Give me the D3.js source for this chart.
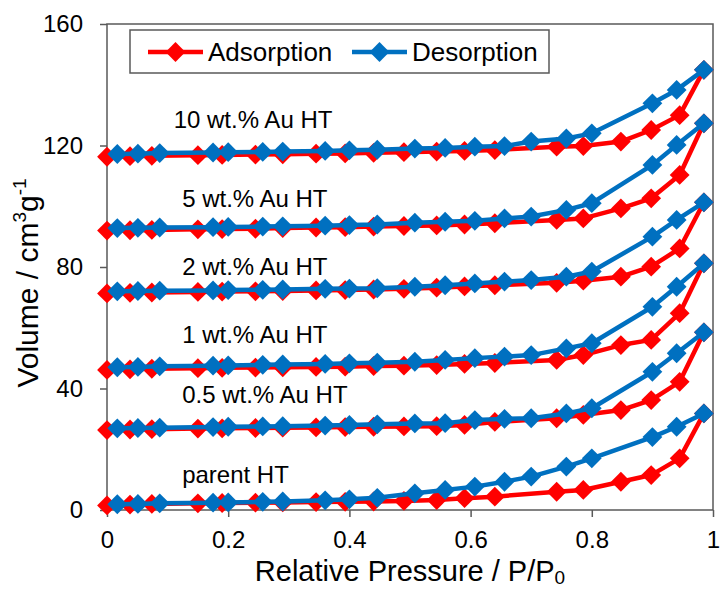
<!DOCTYPE html>
<html>
<head>
<meta charset="utf-8">
<script src="https://cdn.jsdelivr.net/npm/d3@7"></script>
<style>
  body { margin: 0; background: #fff; }
  text { font-family: Arial, "Liberation Sans", sans-serif; fill: #000; }
</style>
</head>
<body>
<div id="chart"></div>
<script>
// relative pressure of the measured points
var adsP = [0.0, 0.038, 0.074, 0.15, 0.19, 0.245, 0.29, 0.345, 0.393, 0.44, 0.49, 0.544, 0.59, 0.64, 0.742, 0.786, 0.848, 0.898, 0.945, 0.985];
var desP = [0.985, 0.94, 0.90, 0.80, 0.758, 0.70, 0.656, 0.607, 0.558, 0.508, 0.446, 0.40, 0.36, 0.29, 0.257, 0.2, 0.175, 0.087, 0.051, 0.017];

var samples = ["parent HT", "0.5 wt.% Au HT", "1 wt.% Au HT", "2 wt.% Au HT", "5 wt.% Au HT", "10 wt.% Au HT"];

// adsorbed volume, cm3/g (adsorption branch)
var adsParent = [1.5, 1.8, 2.0, 2.2, 2.3, 2.4, 2.5, 2.6, 2.7, 2.8, 3.0, 3.3, 3.9, 4.4, 6.0, 6.6, 9.3, 11.5, 17.0, 31.8];
var ads05 = [26.3, 26.5, 26.6, 26.8, 26.9, 27.0, 27.1, 27.2, 27.3, 27.4, 27.5, 27.6, 28.0, 29.0, 30.2, 31.3, 32.9, 36.2, 42.2, 58.5];
var ads1 = [46.1, 46.3, 46.5, 46.7, 46.8, 46.9, 47.0, 47.1, 47.2, 47.4, 47.5, 47.7, 48.1, 48.4, 49.4, 51.0, 54.3, 56.0, 64.8, 81.2];
var ads2 = [71.3, 71.5, 71.6, 71.8, 71.9, 72.0, 72.1, 72.3, 72.4, 72.6, 72.8, 73.2, 73.6, 74.0, 74.8, 75.5, 76.8, 80.1, 86.1, 101.3];
var ads5 = [92.0, 92.1, 92.2, 92.4, 92.5, 92.6, 92.8, 93.0, 93.1, 93.3, 93.5, 93.7, 94.0, 94.4, 95.5, 96.0, 99.3, 102.6, 110.3, 127.3];
var ads10 = [116.3, 116.5, 116.6, 116.8, 116.9, 117.0, 117.1, 117.3, 117.4, 117.6, 117.8, 118.0, 118.2, 118.5, 119.6, 119.8, 121.3, 125.1, 130.0, 144.9];

// desorption branch
var desParent = [31.8, 27.4, 24.0, 17.0, 14.3, 11.0, 9.3, 7.7, 6.6, 5.5, 4.0, 3.5, 3.2, 2.8, 2.7, 2.5, 2.4, 2.2, 2.0, 1.9];
var des05 = [58.5, 51.6, 45.5, 33.5, 31.8, 30.2, 30.0, 29.6, 28.6, 28.5, 28.2, 28.0, 27.8, 27.6, 27.5, 27.4, 27.3, 27.1, 27.0, 26.9];
var des1 = [81.2, 73.5, 66.9, 54.9, 53.2, 51.0, 50.5, 50.0, 49.4, 48.8, 48.5, 48.3, 48.1, 47.9, 47.8, 47.6, 47.5, 47.3, 47.1, 47.0];
var des2 = [101.3, 95.5, 90.0, 78.5, 76.8, 75.7, 75.2, 74.6, 74.0, 73.5, 73.0, 72.9, 72.8, 72.6, 72.5, 72.4, 72.3, 72.2, 72.1, 72.0];
var des5 = [127.3, 120.2, 113.6, 101.0, 98.8, 96.6, 96.0, 95.2, 94.9, 94.6, 94.0, 93.8, 93.6, 93.4, 93.3, 93.2, 93.1, 93.0, 92.9, 92.8];
var des10 = [144.9, 138.3, 133.9, 124.0, 122.3, 121.3, 119.8, 119.6, 119.2, 119.0, 118.6, 118.4, 118.2, 118.0, 117.9, 117.8, 117.7, 117.5, 117.3, 117.2];

var xTicks = [0, 0.2, 0.4, 0.6, 0.8, 1];
var yTicks = [0, 40, 80, 120, 160];

// sample label placement (x in P/P0, y in volume units)
var labelPos = [[0.124, 9], [0.124, 35.3], [0.124, 55.0], [0.124, 77.4], [0.124, 99.7], [0.11, 125.7]];

var adsColor = "#ff0000";
var desColor = "#0070c0";

var svgWidth = 720;
var svgHeight = 590;
var margin = { top: 24, right: 7, bottom: 80, left: 107 };
var width = svgWidth - margin.left - margin.right;
var height = svgHeight - margin.top - margin.bottom;

var svg = d3.select("#chart")
    .append("svg")
    .attr("width", svgWidth)
    .attr("height", svgHeight);

var chartGroup = svg.append("g")
    .attr("transform", `translate(${margin.left}, ${margin.top})`);

var xScale = d3.scaleLinear().domain([0, 1]).range([0, width]);
var yScale = d3.scaleLinear().domain([0, 160]).range([height, 0]);

// axes
var bottomAxis = d3.axisBottom(xScale).tickValues(xTicks).tickFormat(d => String(d))
    .tickSize(7).tickPadding(14);
var leftAxis = d3.axisLeft(yScale).tickValues(yTicks).tickFormat(d => String(d))
    .tickSize(7).tickPadding(17);

var xAxis = chartGroup.append("g")
    .attr("transform", `translate(0, ${height})`)
    .call(bottomAxis);
var yAxis = chartGroup.append("g").call(leftAxis);

[xAxis, yAxis].forEach(function (ax) {
    ax.select(".domain").remove();
    ax.selectAll("line").attr("stroke", "#595959").attr("stroke-width", 1.5);
    ax.selectAll("text").attr("font-size", 24).attr("fill", "#000")
        .style("font-family", "Arial, 'Liberation Sans', sans-serif");
});

// plot frame
chartGroup.append("rect")
    .attr("x", 0).attr("y", 0)
    .attr("width", width).attr("height", height)
    .attr("fill", "none")
    .attr("stroke", "#595959")
    .attr("stroke-width", 1.5);

var line = d3.line()
    .x(d => xScale(d[0]))
    .y(d => yScale(d[1]));

var diamond = d3.symbol().type(d3.symbolDiamond2).size(250);

function drawBranch(pres, vals, color) {
    var pts = pres.map((p, i) => [p, vals[i]]);
    var g = chartGroup.append("g");
    g.append("path")
        .datum(pts)
        .attr("d", line)
        .attr("fill", "none")
        .attr("stroke", color)
        .attr("stroke-width", 4.5)
        .attr("stroke-linejoin", "round");
    g.selectAll("path.marker")
        .data(pts)
        .enter()
        .append("path")
        .attr("class", "marker")
        .attr("d", diamond)
        .attr("transform", d => `translate(${xScale(d[0])}, ${yScale(d[1])})`)
        .attr("fill", color);
}

var adsSeries = [adsParent, ads05, ads1, ads2, ads5, ads10];
var desSeries = [desParent, des05, des1, des2, des5, des10];

adsSeries.forEach(function (vals, i) {
    drawBranch(adsP, vals, adsColor);
    drawBranch(desP, desSeries[i], desColor);
});

// sample labels
chartGroup.selectAll("text.sample")
    .data(samples)
    .enter()
    .append("text")
    .attr("class", "sample")
    .attr("x", (d, i) => xScale(labelPos[i][0]))
    .attr("y", (d, i) => yScale(labelPos[i][1]))
    .attr("font-size", 24)
    .text(d => d);

// axis titles
var xTitle = svg.append("text")
    .attr("x", 410)
    .attr("y", 581)
    .attr("text-anchor", "middle")
    .attr("font-size", 29);
xTitle.append("tspan").text("Relative Pressure / P/P");
xTitle.append("tspan").attr("font-size", 19).attr("dy", 3).text("0");

var yTitle = svg.append("text")
    .attr("transform", "translate(38, 283) rotate(-90)")
    .attr("text-anchor", "middle")
    .attr("font-size", 30);
yTitle.append("tspan").text("Volume / cm");
yTitle.append("tspan").attr("font-size", 19).attr("dy", -12).text("3");
yTitle.append("tspan").attr("dy", 12).text("g");
yTitle.append("tspan").attr("font-size", 19).attr("dy", -12).text("-1");

// legend
var legend = svg.append("g");
legend.append("rect")
    .attr("x", 130).attr("y", 30)
    .attr("width", 419).attr("height", 43)
    .attr("fill", "#fff")
    .attr("stroke", "#595959")
    .attr("stroke-width", 1.5);

var legendItems = [
    { label: "Adsorption", color: adsColor, x0: 148 },
    { label: "Desorption", color: desColor, x0: 352 }
];

legendItems.forEach(function (item) {
    legend.append("line")
        .attr("x1", item.x0).attr("x2", item.x0 + 55)
        .attr("y1", 52).attr("y2", 52)
        .attr("stroke", item.color)
        .attr("stroke-width", 4.5);
    legend.append("path")
        .attr("d", diamond)
        .attr("transform", `translate(${item.x0 + 27.5}, 52)`)
        .attr("fill", item.color);
    legend.append("text")
        .attr("x", item.x0 + 60)
        .attr("y", 61)
        .attr("font-size", 26)
        .text(item.label);
});
</script>
</body>
</html>
